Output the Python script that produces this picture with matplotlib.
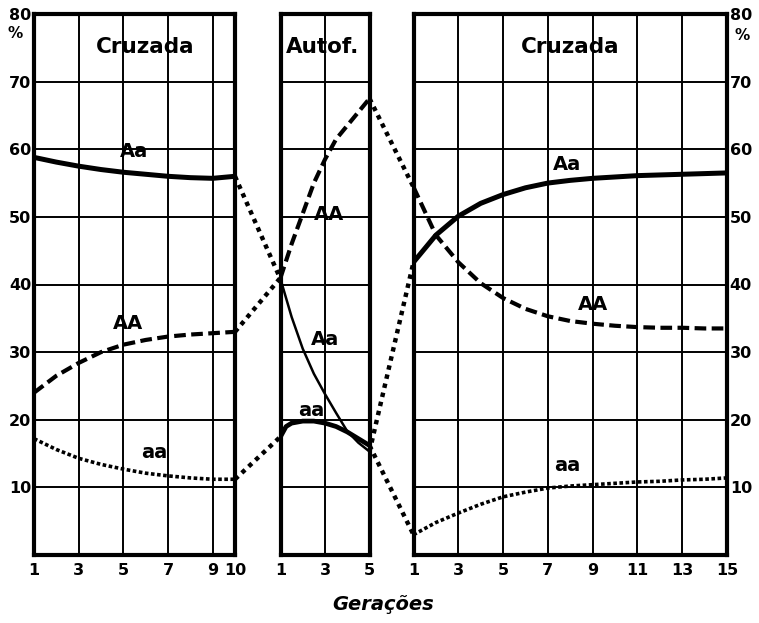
import numpy as np
import matplotlib
matplotlib.use('Agg')
import matplotlib.pyplot as plt
from matplotlib.lines import Line2D

# cruzamento inicial (geracoes 1-10)
gen_c1 = [1, 2, 3, 4, 5, 6, 7, 8, 9, 10]
AA_c1 = [24.0, 26.5, 28.4, 30.0, 31.1, 31.8, 32.3, 32.6, 32.8, 33.0]
Aa_c1 = [58.8, 58.1, 57.5, 57.0, 56.6, 56.3, 56.0, 55.8, 55.7, 56.0]
aa_c1 = [17.2, 15.6, 14.3, 13.4, 12.7, 12.1, 11.7, 11.4, 11.2, 11.2]

# autofecundacao (geracoes 1-5)
gen_af = [1, 1.5, 2, 2.5, 3, 3.5, 4, 4.5, 5]
AA_af = [41.0, 46.0, 50.5, 55.0, 58.5, 61.5, 63.5, 65.5, 67.5]
Aa_af = [40.8, 35.2, 30.5, 26.8, 23.8, 21.0, 18.3, 16.6, 15.3]
gen_af_aa = [1, 1.25, 1.5, 2, 2.5, 3, 3.5, 4, 4.5, 5]
aa_af = [17.5, 19.0, 19.5, 19.8, 19.8, 19.5, 19.0, 18.2, 17.2, 16.2]

# cruzamento final (geracoes 1-15)
gen_c2 = list(range(1, 16))
AA_c2 = [54.4, 47.3, 43.3, 40.2, 38.0, 36.4, 35.3, 34.6, 34.2, 33.9, 33.7, 33.6, 33.6, 33.5, 33.5]
Aa_c2 = [43.3, 47.3, 50.1, 52.0, 53.3, 54.3, 55.0, 55.4, 55.7, 55.9, 56.1, 56.2, 56.3, 56.4, 56.5]
aa_c2 = [3.0, 4.8, 6.2, 7.5, 8.6, 9.3, 9.9, 10.2, 10.4, 10.6, 10.8, 10.9, 11.1, 11.2, 11.4]

xticks_c1 = [1, 3, 5, 7, 9, 10]
xticks_af = [1, 3, 5]
xticks_c2 = [1, 3, 5, 7, 9, 11, 13, 15]
yticks = [10, 20, 30, 40, 50, 60, 70, 80]

W, H = 759, 623
fig = plt.figure(figsize=(W / 100, H / 100), dpi=100)
bot = 1 - 555 / H
hgt = (555 - 14) / H
ax1 = fig.add_axes([34 / W, bot, 201 / W, hgt])
ax2 = fig.add_axes([280.5 / W, bot, 89 / W, hgt])
ax3 = fig.add_axes([413.5 / W, bot, 313.5 / W, hgt])

for ax, xt, xmax in [(ax1, xticks_c1, 10), (ax2, xticks_af, 5), (ax3, xticks_c2, 15)]:
    ax.set_xlim(1, xmax)
    ax.set_ylim(0, 80)
    ax.set_xticks(xt)
    ax.set_yticks(yticks)
    ax.grid(True, color='black', lw=1.4)
    ax.set_axisbelow(True)
    for s in ax.spines.values():
        s.set_linewidth(3)
    ax.tick_params(length=0, labelsize=11.5, pad=6)
    for lab in ax.get_xticklabels():
        lab.set_fontweight('bold')
    ax.tick_params(axis='y', labelleft=False)

ax1.tick_params(axis='y', labelleft=True, pad=2)
for lab in ax1.get_yticklabels():
    lab.set_fontweight('bold')
ax3.tick_params(axis='y', labelright=True, pad=2)
for lab in ax3.get_yticklabels():
    lab.set_fontweight('bold')

fig.text(15 / W, 1 - 34 / H, '%', ha='center', va='center', fontsize=11, fontweight='bold')
fig.text(742 / W, 1 - 36 / H, '%', ha='center', va='center', fontsize=11, fontweight='bold')

thick = dict(color='black', lw=3.6, solid_capstyle='round')
dash = dict(color='black', lw=3, linestyle=(0, (2.8, 1.3)))
dots = dict(color='black', lw=2.6, linestyle=(0, (1, 0.7)))

ax1.plot(gen_c1, Aa_c1, **thick)
ax1.plot(gen_c1, AA_c1, **dash)
ax1.plot(gen_c1, aa_c1, **dots)

ax2.plot(gen_af, AA_af, **dash)
ax2.plot(gen_af, Aa_af, color='black', lw=1.8)
ax2.plot(gen_af_aa, aa_af, color='black', lw=3.4)

ax3.plot(gen_c2, Aa_c2, **thick)
ax3.plot(gen_c2, AA_c2, **dash)
ax3.plot(gen_c2, aa_c2, **dots)

# ligacoes pontilhadas entre os paineis
links = [(ax1, ax2, gen_c1[-1], Aa_c1[-1], gen_af[0], Aa_af[0]),
         (ax1, ax2, gen_c1[-1], AA_c1[-1], gen_af[0], AA_af[0]),
         (ax1, ax2, gen_c1[-1], aa_c1[-1], gen_af_aa[0], aa_af[0]),
         (ax2, ax3, gen_af[-1], AA_af[-1], gen_c2[0], AA_c2[0]),
         (ax2, ax3, gen_af[-1], Aa_af[-1], gen_c2[0], Aa_c2[0]),
         (ax2, ax3, gen_af_aa[-1], aa_af[-1], gen_c2[0], aa_c2[0])]
to_fig = fig.transFigure.inverted()
for a, b, x0, y0, x1, y1 in links:
    p0 = to_fig.transform(a.transData.transform((x0, y0)))
    p1 = to_fig.transform(b.transData.transform((x1, y1)))
    fig.add_artist(Line2D([p0[0], p1[0]], [p0[1], p1[1]], transform=fig.transFigure,
                          color='black', lw=3.2, linestyle=(0, (1, 1.1))))

tkw = dict(ha='center', va='center', fontsize=15.5, fontweight='bold')
ax1.text(6.0, 75.1, 'Cruzada', **tkw)
ax2.text(2.9, 75.1, 'Autof.', **tkw)
ax3.text(8.0, 75.1, 'Cruzada', **tkw)

lkw = dict(ha='center', va='center', fontsize=14, fontweight='bold')
ax1.text(5.5, 59.6, 'Aa', **lkw)
ax1.text(5.2, 34.3, 'AA', **lkw)
ax1.text(6.4, 15.2, 'aa', **lkw)
ax2.text(3.2, 50.3, 'AA', **lkw)
ax2.text(3.0, 31.8, 'Aa', **lkw)
ax2.text(2.4, 21.4, 'aa', **lkw)
ax3.text(7.85, 57.7, 'Aa', **lkw)
ax3.text(9.0, 37.0, 'AA', **lkw)
ax3.text(7.85, 13.3, 'aa', **lkw)

fig.text(383 / W, 1 - 605 / H, 'Gerações', ha='center', va='center',
         fontsize=14, fontweight='bold', style='italic')

fig.savefig('out.png', dpi=100)
